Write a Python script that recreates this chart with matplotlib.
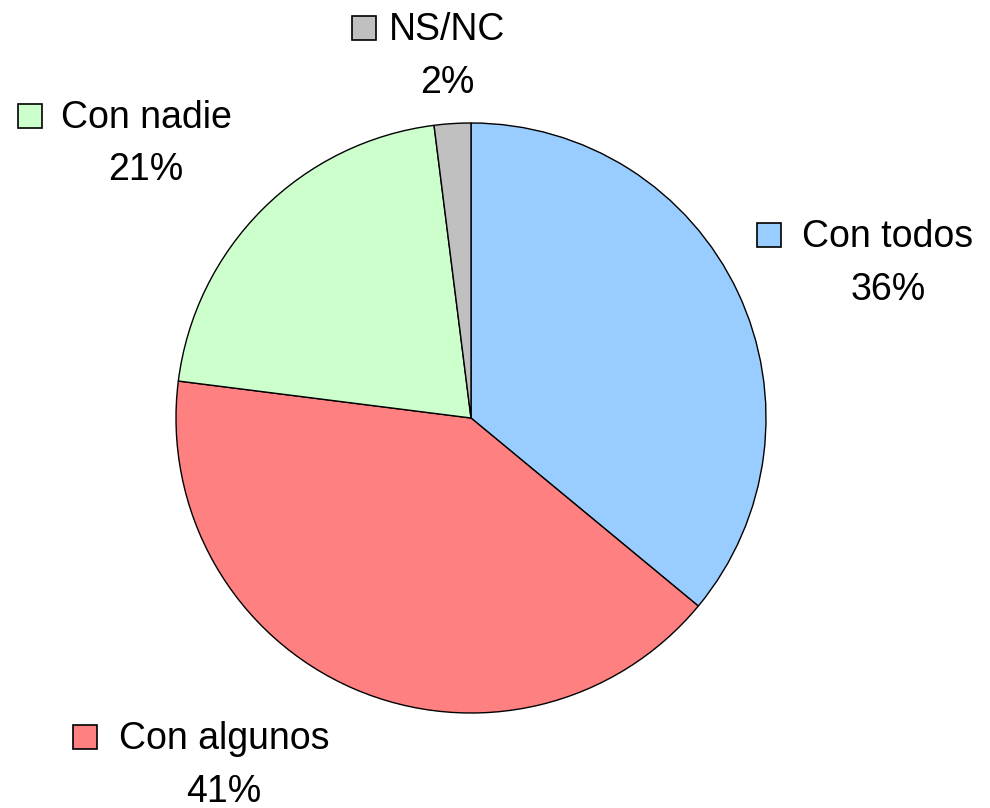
import matplotlib
matplotlib.use("Agg")
import matplotlib.pyplot as plt
from matplotlib.patches import Rectangle

categories = ["Con todos", "Con algunos", "Con nadie", "NS/NC"]
values = [36, 41, 21, 2]
pct_labels = ["36%", "41%", "21%", "2%"]
colors = ["#99CCFF", "#FF8080", "#CCFFCC", "#C0C0C0"]

W, H = 990, 808
fig = plt.figure(figsize=(W / 100, H / 100), dpi=100)
plt.rcParams['font.family'] = ['Liberation Sans', 'DejaVu Sans']

cx, cy, r = 471, 418, 295
ax = fig.add_axes([(cx - r) / W, (H - cy - r) / H, 2 * r / W, 2 * r / H])
ax.pie(values, colors=colors, startangle=90, counterclock=False, radius=1,
       wedgeprops=dict(edgecolor="black", linewidth=1.0))
ax.set_xlim(-1, 1)
ax.set_ylim(-1, 1)
ax.set_aspect("equal")
ax.axis("off")

# label layout: (square left x, text center x, baseline 1, baseline 2) in pixels from top
layout = {
    "Con todos": (757, 888, 247, 300),
    "Con algunos": (73, 224, 749, 802),
    "Con nadie": (18, 146, 128, 180),
    "NS/NC": (352, 447, 40, 93),
}
fs = 27
sq = 24
for cat, pct, col in zip(categories, pct_labels, colors):
    sx, tx, b1, b2 = layout[cat]
    fig.text(tx / W, 1 - b1 / H, cat, ha="center", va="baseline", fontsize=fs)
    fig.text(tx / W, 1 - b2 / H, pct, ha="center", va="baseline", fontsize=fs)
    fig.add_artist(Rectangle((sx / W, 1 - b1 / H), sq / W, sq / H,
                             transform=fig.transFigure, facecolor=col,
                             edgecolor="black", linewidth=1.2))

fig.savefig("out.png", dpi=100)
